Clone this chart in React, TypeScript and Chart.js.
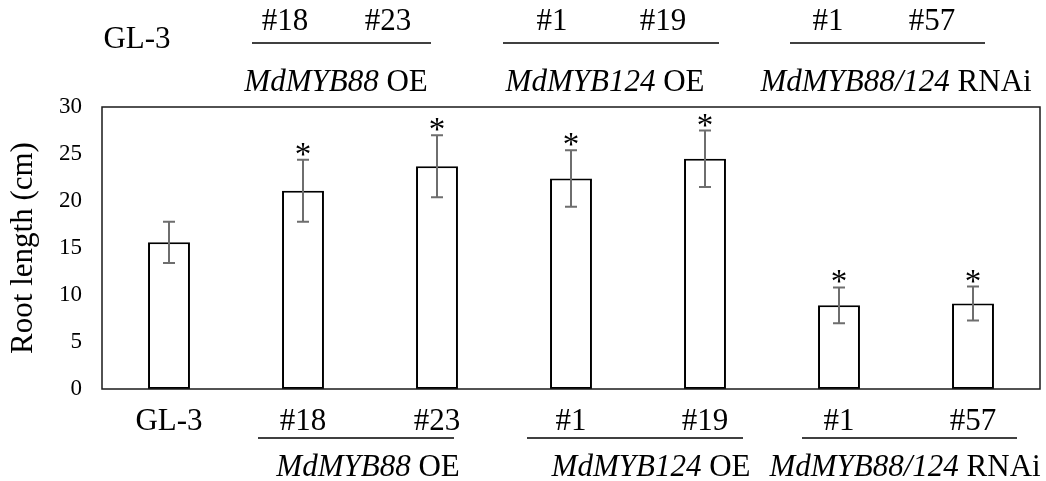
import React, { useEffect, useRef } from "react";
import { Chart, registerables } from "chart.js";

Chart.register(...registerables);

const categories = ["GL-3", "#18", "#23", "#1", "#19", "#1", "#57"];
const rootLength = [15.6, 21.1, 23.7, 22.4, 24.5, 8.9, 9.1];
const errors = [2.2, 3.3, 3.3, 3.0, 3.0, 1.9, 1.8];
const significant = [false, true, true, true, true, true, true];
const yTicks = [0, 5, 10, 15, 20, 25, 30];

const FONT = "'Liberation Serif', 'Times New Roman', serif";

// header / group annotations (layout only)
type Part = { t: string; italic?: boolean };
const topTexts: { parts: Part[]; x: number; y: number }[] = [
  { parts: [{ t: "GL-3" }], x: 137, y: 48 },
  { parts: [{ t: "#18" }], x: 285, y: 30 },
  { parts: [{ t: "#23" }], x: 388, y: 30 },
  { parts: [{ t: "#1" }], x: 552, y: 30 },
  { parts: [{ t: "#19" }], x: 663, y: 30 },
  { parts: [{ t: "#1" }], x: 828, y: 30 },
  { parts: [{ t: "#57" }], x: 932, y: 30 },
  { parts: [{ t: "MdMYB88", italic: true }, { t: " OE" }], x: 336, y: 91 },
  { parts: [{ t: "MdMYB124", italic: true }, { t: " OE" }], x: 605, y: 91 },
  { parts: [{ t: "MdMYB88/124", italic: true }, { t: " RNAi" }], x: 896, y: 91 },
  { parts: [{ t: "MdMYB88", italic: true }, { t: " OE" }], x: 368, y: 476 },
  { parts: [{ t: "MdMYB124", italic: true }, { t: " OE" }], x: 651, y: 476 },
  { parts: [{ t: "MdMYB88/124", italic: true }, { t: " RNAi" }], x: 905, y: 476 },
];
const groupLines: { x1: number; x2: number; y: number }[] = [
  { x1: 252, x2: 431, y: 43 },
  { x1: 503, x2: 719, y: 43 },
  { x1: 790, x2: 985, y: 43 },
  { x1: 258, x2: 454, y: 438 },
  { x1: 527, x2: 743, y: 438 },
  { x1: 802, x2: 1017, y: 438 },
];

const decor = {
  id: "decor",
  afterDatasetsDraw(chart: any) {
    const ctx = chart.ctx;
    const { left, right, top, bottom } = chart.chartArea;
    const xs = chart.scales.x;
    const ys = chart.scales.y;
    ctx.save();
    // plot frame
    ctx.strokeStyle = "#1a1a1a";
    ctx.lineWidth = 1.5;
    ctx.strokeRect(left, top, right - left, bottom - top);
    // error bars + asterisks
    rootLength.forEach((v, i) => {
      const x = xs.getPixelForValue(i);
      const yHi = ys.getPixelForValue(v + errors[i]);
      const yLo = ys.getPixelForValue(v - errors[i]);
      ctx.strokeStyle = "#6e6e6e";
      ctx.lineWidth = 2;
      ctx.beginPath();
      ctx.moveTo(x, yHi);
      ctx.lineTo(x, yLo);
      ctx.moveTo(x - 6, yHi);
      ctx.lineTo(x + 6, yHi);
      ctx.moveTo(x - 6, yLo);
      ctx.lineTo(x + 6, yLo);
      ctx.stroke();
      if (significant[i]) {
        ctx.fillStyle = "#000";
        ctx.font = `33px ${FONT}`;
        ctx.textAlign = "center";
        ctx.textBaseline = "alphabetic";
        ctx.fillText("*", x, yHi + 5);
      }
    });
    // header and group labels
    ctx.fillStyle = "#000";
    ctx.textBaseline = "alphabetic";
    ctx.textAlign = "left";
    topTexts.forEach((tt) => {
      const widths = tt.parts.map((p) => {
        ctx.font = `${p.italic ? "italic " : ""}31px ${FONT}`;
        return ctx.measureText(p.t).width;
      });
      const total = widths.reduce((a, b) => a + b, 0);
      let cx = tt.x - total / 2;
      tt.parts.forEach((p, k) => {
        ctx.font = `${p.italic ? "italic " : ""}31px ${FONT}`;
        ctx.fillText(p.t, cx, tt.y);
        cx += widths[k];
      });
    });
    ctx.strokeStyle = "#000";
    ctx.lineWidth = 1.5;
    groupLines.forEach((l) => {
      ctx.beginPath();
      ctx.moveTo(l.x1, l.y);
      ctx.lineTo(l.x2, l.y);
      ctx.stroke();
    });
    ctx.restore();
  },
};

export default function App() {
  const ref = useRef<HTMLCanvasElement>(null);
  useEffect(() => {
    document.body.style.margin = "0";
    const chart = new Chart(ref.current!, {
      type: "bar",
      data: {
        labels: categories,
        datasets: [
          {
            data: rootLength,
            backgroundColor: "#ffffff",
            borderColor: "#000000",
            borderWidth: 2,
            borderSkipped: false,
            barPercentage: 0.313,
            categoryPercentage: 1,
          },
        ],
      },
      options: {
        responsive: false,
        animation: false,
        devicePixelRatio: 1,
        layout: { padding: { top: 107, right: 6, left: 0, bottom: 0 } },
        plugins: { legend: { display: false }, tooltip: { enabled: false } },
        scales: {
          x: {
            grid: { display: false, drawTicks: false },
            border: { display: false },
            ticks: {
              color: "#000",
              font: { family: FONT, size: 31 },
              padding: 14,
              maxRotation: 0,
              autoSkip: false,
            },
            afterFit: (s: any) => {
              s.height = 92;
            },
          },
          y: {
            min: 0,
            max: 30,
            grid: { display: false, drawTicks: false },
            border: { display: false },
            afterBuildTicks: (s: any) => {
              s.ticks = yTicks.map((v) => ({ value: v }));
            },
            ticks: {
              color: "#000",
              font: { family: FONT, size: 23 },
              padding: 20,
            },
            title: {
              display: true,
              text: "Root length (cm)",
              color: "#000",
              font: { family: FONT, size: 31 },
              padding: { top: 5, bottom: 0 },
            },
            afterFit: (s: any) => {
              s.width = 102;
            },
          },
        },
      },
      plugins: [decor],
    });
    return () => chart.destroy();
  }, []);
  return (
    <div style={{ width: 1046, height: 481 }}>
      <canvas ref={ref} width={1046} height={481} />
    </div>
  );
}
